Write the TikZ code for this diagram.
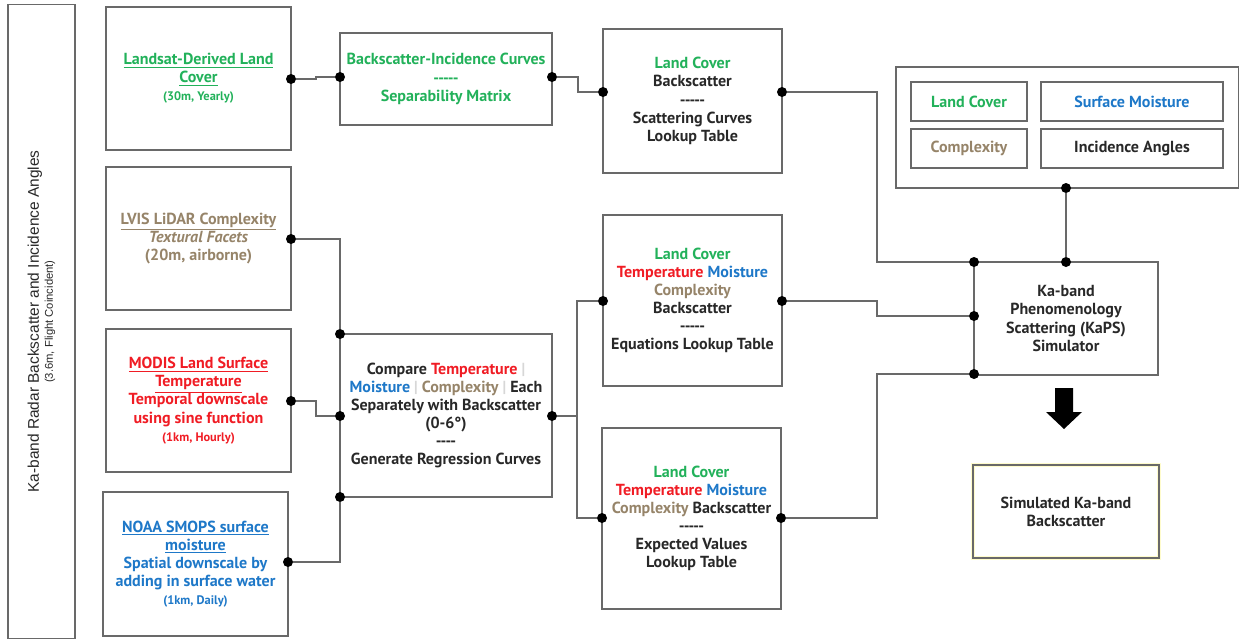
\documentclass[tikz,border=0pt]{standalone}
\usepackage{fontspec}
\setmainfont{PT Sans}
\newfontfamily\radarfont{Liberation Sans}
\usepackage{tikz}

\definecolor{lcgreen}{RGB}{34,177,90}
\definecolor{tempred}{RGB}{240,28,36}
\definecolor{moistblue}{RGB}{30,120,200}
\definecolor{cplxtan}{RGB}{150,132,105}
\definecolor{boxgray}{RGB}{105,105,105}
\definecolor{txtdark}{RGB}{40,40,40}
\definecolor{barlight}{RGB}{215,215,215}

\newcommand{\subnote}{\fontsize{8.8}{10}\selectfont}
\newcommand{\barsep}{\textcolor{barlight}{|}}
\newcommand{\dashes}{-{}-{}-{}-{}-}

\tikzset{
	box/.style={draw=boxgray, line width=0.8pt, rectangle, inner sep=2pt, outer sep=0pt, align=center, text=txtdark, font=\fontsize{11.4}{12.9}\selectfont\bfseries},
	dot/.style={circle, fill=black, inner sep=0pt, minimum size=0.25cm},
	wire/.style={draw=boxgray, line width=0.8pt},
}

\begin{document}
\begin{tikzpicture}[x=0.025cm, y=-0.025cm]
	\useasboundingbox (0,0) rectangle (1241,640);
	% Boxes:
	\node[box, rotate=90, minimum width=15.825cm, minimum height=1.675cm] (radar) at (41.5,321.5) {{\radarfont\mdseries\fontsize{11}{12.5}\selectfont Ka-band Radar Backscatter and Incidence Angles}\\[-3pt]{\radarfont\mdseries\fontsize{8}{9}\selectfont (3.6m, Flight Coincident)}};
	\node[box, text=lcgreen, minimum width=4.625cm, minimum height=3.575cm] (landsat) at (198.5,78.5) {\underline{Landsat-Derived Land}\\\underline{Cover}\\{\subnote (30m, Yearly)}};
	\node[box, text=cplxtan, minimum width=4.625cm, minimum height=3.575cm] (lvis) at (198.5,238.5) {\underline{LVIS LiDAR Complexity}\\\textit{Textural Facets}\\(20m, airborne)};
	\node[box, text=tempred, minimum width=4.625cm, minimum height=3.575cm] (modis) at (198.5,400.5) {\underline{MODIS Land Surface}\\\underline{Temperature}\\Temporal downscale\\using sine function\\{\subnote (1km, Hourly)}};
	\node[box, text=moistblue, minimum width=4.625cm, minimum height=3.6cm] (noaa) at (195.5,564) {\underline{NOAA SMOPS surface}\\\underline{moisture}\\Spatial downscale by\\adding in surface water\\{\subnote (1km, Daily)}};
	\node[box, text=lcgreen, minimum width=5.3cm, minimum height=2.3cm] (curves) at (446,79) {Backscatter-Incidence Curves\\\dashes\\Separability Matrix};
	\node[box, minimum width=5.3cm, minimum height=4.075cm] (compare) at (446,415.5) {Compare \textcolor{tempred}{Temperature} \barsep\\\textcolor{moistblue}{Moisture} \barsep\ \textcolor{cplxtan}{Complexity} \barsep\ Each\\Separately with Backscatter\\(0-6°)\\-{}-{}-{}-\\Generate Regression Curves};
	\node[box, minimum width=4.475cm, minimum height=3.6cm] (scatlut) at (692.5,101) {\textcolor{lcgreen}{Land Cover}\\Backscatter\\\dashes\\Scattering Curves\\Lookup Table};
	\node[box, minimum width=4.475cm, minimum height=4.275cm] (eqlut) at (692.5,300.5) {\textcolor{lcgreen}{Land Cover}\\\textcolor{tempred}{Temperature} \textcolor{moistblue}{Moisture}\\\textcolor{cplxtan}{Complexity}\\Backscatter\\\dashes\\Equations Lookup Table};
	\node[box, minimum width=4.475cm, minimum height=4.525cm] (explut) at (691.5,518.5) {\textcolor{lcgreen}{Land Cover}\\\textcolor{tempred}{Temperature} \textcolor{moistblue}{Moisture}\\\textcolor{cplxtan}{Complexity} Backscatter\\\dashes\\Expected Values\\Lookup Table};
	\node[box, minimum width=8.55cm, minimum height=3.025cm] (inputs) at (1067,127.5) {};
	\node[box, text=lcgreen, minimum width=2.9cm, minimum height=0.975cm] (inLC) at (969,101.5) {Land Cover};
	\node[box, text=moistblue, minimum width=4.55cm, minimum height=0.975cm] (inSM) at (1132,101.5) {Surface Moisture};
	\node[box, text=cplxtan, minimum width=2.9cm, minimum height=0.975cm] (inCX) at (969,148.5) {Complexity};
	\node[box, minimum width=4.55cm, minimum height=0.975cm] (inIA) at (1132,148.5) {Incidence Angles};
	\node[box, minimum width=4.6cm, minimum height=2.825cm] (kaps) at (1066,318.5) {Ka-band\\Phenomenology\\Scattering (KaPS)\\Simulator};
	\node[box, preaction={draw=yellow!20, line width=3pt}, minimum width=4.65cm, minimum height=2.325cm] (simout) at (1066,511.5) {Simulated Ka-band\\Backscatter};
	\fill[black] (1055,388) -- (1073,388) -- (1073,412) -- (1082,412) -- (1064,429) -- (1046,412) -- (1055,412) -- cycle;

	% Dots:
	\node[dot] (landsatR) at (291,79) {};
	\node[dot] (curvesL) at (340,77) {};
	\node[dot] (curvesR) at (552,77) {};
	\node[dot] (scatlutL) at (603,92) {};
	\node[dot] (scatlutR) at (782,92) {};
	\node[dot] (lvisR) at (291,239) {};
	\node[dot] (modisR) at (291,401) {};
	\node[dot] (noaaR) at (288,562) {};
	\node[dot] (compareTL) at (340,334) {};
	\node[dot] (compareL) at (340,416) {};
	\node[dot] (compareBL) at (340,497) {};
	\node[dot] (compareR) at (552,416) {};
	\node[dot] (eqlutL) at (603,301) {};
	\node[dot] (eqlutR) at (782,301) {};
	\node[dot] (explutL) at (602,518) {};
	\node[dot] (explutR) at (781,518) {};
	\node[dot] (inputsB) at (1066,188) {};
	\node[dot] (kapsTL) at (974,262) {};
	\node[dot] (kapsT) at (1066,262) {};
	\node[dot] (kapsL) at (974,316) {};
	\node[dot] (kapsBL) at (974,374) {};
	\coordinate (branch) at (577,416);

	% Wires:
	\draw[wire] (landsatR) -- ++(25,0) |- (curvesL);
	\draw[wire] (curvesR) -- ++(26,0) |- (scatlutL);
	\draw[wire] (scatlutR) -- ++(95,0) |- (kapsTL);
	\draw[wire] (inputsB) -- (kapsT);
	\draw[wire] (eqlutR) -- ++(95,0) |- (kapsL);
	\draw[wire] (explutR) -- ++(96,0) |- (kapsBL);
	\draw[wire] (lvisR) -| (compareTL);
	\draw[wire] (modisR) -- ++(25,0) |- (compareL);
	\draw[wire] (noaaR) -| (compareBL);
	\draw[wire] (compareR) -- (branch);
	\draw[wire] (eqlutL) -| (branch) |- (explutL);
\end{tikzpicture}
\end{document}
